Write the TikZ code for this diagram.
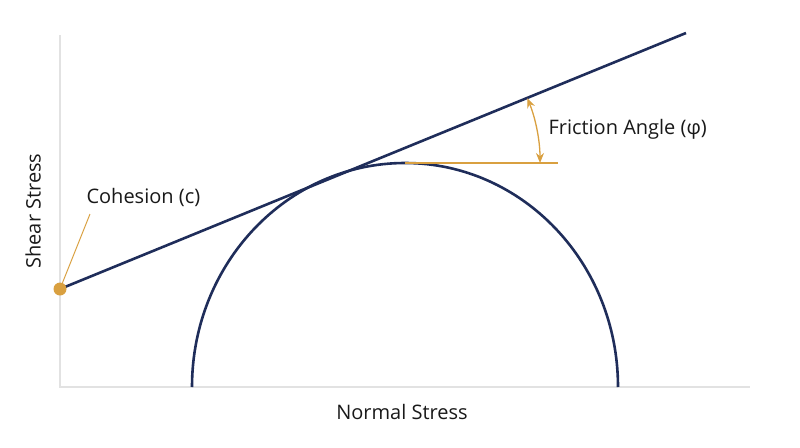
\documentclass[tikz,border=0pt]{standalone}
\usepackage{fontspec}
\setmainfont{Open Sans}
\usetikzlibrary{arrows.meta}
\definecolor{navy}{HTML}{1F2D5A}
\definecolor{gold}{HTML}{D9A040}
\definecolor{axisgray}{HTML}{E2E2E2}
\begin{document}
\begin{tikzpicture}[x=1pt,y=-1pt,
  lbl/.style={font=\fontsize{20}{23}\selectfont, text=black!90},
  env/.style={navy, line width=2.6pt},
  acc/.style={gold, line width=1.3pt}]
\useasboundingbox (0,0) rectangle (800,447);
\coordinate (o) at (60,387);
\coordinate (ytop) at (60,35);
\coordinate (xend) at (750,387);
\draw[axisgray, line width=2pt] (ytop) -- (o) -- (xend);
\coordinate (c) at (60,289);
\coordinate (e) at (686,33);
\draw[env] (c) -- (e);
\draw[env] (192,387) arc[start angle=180, end angle=360, x radius=213, y radius=224];
\coordinate (top) at (405,163);
\coordinate (hend) at (558,163);
\draw[acc] (top) -- (hend);
\coordinate (v) at (368,163);
\draw[acc, {Stealth[length=10pt,width=8pt]}-{Stealth[length=10pt,width=8pt]}] ([shift={(0:172)}]v) arc[start angle=0, end angle=-22.2, radius=172];
\node[lbl, anchor=west] (fa) at (545,129) {Friction Angle (φ)};
\node[circle, fill=gold, inner sep=0pt, minimum size=13pt] (dot) at (c) {};
\coordinate (cl) at (90,214);
\draw[acc, line width=1pt] (dot) -- (cl);
\node[lbl, anchor=west] (coh) at (83,197) {Cohesion (c)};
\node[lbl, rotate=90] (ys) at (33,211) {Shear Stress};
\node[lbl] (xs) at (402,412) {Normal Stress};
\end{tikzpicture}
\end{document}
